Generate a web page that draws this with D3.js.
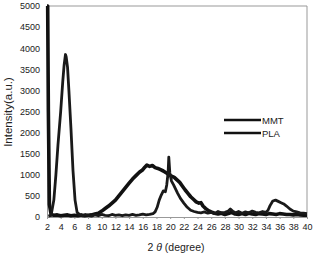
<!DOCTYPE html>
<html>
<head>
<meta charset="utf-8">
<script src="https://cdn.jsdelivr.net/npm/d3@7"></script>
<style>
  body { margin: 0; background: #fff; }
  text { font-family: "Liberation Sans", Arial, sans-serif; fill: #222; }
</style>
</head>
<body>
<div id="chart"></div>
<script>
// X-ray diffraction patterns
const mmtAngle = [2.2, 2.6, 3.0, 3.3, 3.6, 4.0, 4.3, 4.5, 4.7, 4.8, 5.0, 5.2, 5.5, 5.8, 6.1, 6.4, 6.8, 7.2, 7.6, 8.0, 8.5, 9.0, 9.5, 10, 10.5, 11, 11.5, 12, 12.5, 13, 13.5, 14, 14.5, 15, 15.5, 16, 16.5, 17, 17.5, 17.8, 18.1, 18.4, 18.7, 19.0, 19.3, 19.5, 19.7, 19.8, 19.95, 20.2, 20.5, 20.8, 21.1, 21.5, 22.0, 22.5, 23.0, 23.5, 24, 24.5, 25, 25.5, 26, 26.5, 27, 27.5, 28, 28.5, 28.8, 29.2, 29.6, 30, 30.5, 31, 31.5, 32, 32.5, 33, 33.5, 34, 34.3, 34.6, 35, 35.4, 35.8, 36.2, 36.6, 37, 37.5, 38, 38.5, 39, 39.5, 40];
const mmtIntensity = [20, 40, 400, 1000, 1700, 2500, 3200, 3600, 3850, 3800, 3550, 3000, 2100, 1100, 400, 110, 50, 30, 60, 40, 20, 50, 30, 60, 40, 30, 60, 40, 50, 30, 50, 40, 60, 40, 50, 70, 50, 60, 80, 120, 230, 400, 520, 620, 600, 760, 1050, 1420, 1050, 850, 760, 660, 560, 440, 330, 230, 160, 130, 110, 100, 120, 90, 110, 80, 130, 100, 110, 140, 190, 130, 100, 130, 90, 120, 100, 140, 110, 100, 130, 110, 160, 270, 380, 400, 370, 340, 310, 260, 190, 140, 120, 100, 90, 80];

const plaAngle = [2.0, 2.1, 2.2, 2.35, 2.6, 3, 3.5, 4, 4.5, 5, 5.5, 6, 6.5, 7, 7.5, 8, 8.5, 9, 9.5, 10, 10.5, 11, 11.5, 12, 12.5, 13, 13.5, 14, 14.5, 15, 15.5, 16, 16.3, 16.6, 17, 17.4, 17.8, 18.2, 18.6, 19, 19.4, 19.8, 20.2, 20.6, 21, 21.4, 21.8, 22.2, 22.6, 23, 23.4, 23.8, 24.2, 24.5, 24.8, 25.2, 25.6, 26, 26.5, 27, 27.5, 28, 28.5, 29, 29.5, 30, 30.5, 31, 31.5, 32, 32.5, 33, 33.5, 34, 34.5, 35, 35.5, 36, 36.5, 37, 37.5, 38, 38.5, 39, 39.5, 40];
const plaIntensity = [5000, 5000, 2500, 300, 60, 40, 50, 30, 40, 50, 30, 40, 30, 50, 30, 40, 50, 70, 90, 140, 200, 260, 330, 400, 500, 600, 700, 800, 900, 980, 1060, 1120, 1180, 1230, 1200, 1220, 1170, 1150, 1120, 1090, 1050, 1000, 970, 940, 880, 820, 730, 640, 560, 480, 420, 360, 330, 340, 260, 200, 150, 120, 90, 70, 90, 60, 80, 110, 70, 60, 80, 60, 90, 70, 60, 80, 70, 60, 80, 70, 60, 80, 70, 60, 60, 50, 60, 50, 40, 40];

const yTicks = d3.range(0, 5001, 500);
const xTicks = d3.range(2, 41, 2);
const seriesNames = ["MMT", "PLA"];

const width = 313, height = 257;
const margin = { top: 6, right: 6, bottom: 40, left: 46 };

const svg = d3.select("#chart").append("svg")
    .attr("width", width)
    .attr("height", height);

const x = d3.scaleLinear().domain([2, 40]).range([margin.left + 1, width - margin.right]);
const y = d3.scaleLinear().domain([0, 5000]).range([height - margin.bottom, margin.top]);

// frame: thin grey top and right border
svg.append("path")
    .attr("d", `M${x(2)},${y(5000)}H${x(40)}V${y(0)}`)
    .attr("fill", "none")
    .attr("stroke", "#999")
    .attr("stroke-width", 1);

// x axis
const xAxis = svg.append("g")
    .attr("transform", `translate(0,${y(0)})`)
    .call(d3.axisBottom(x).tickValues(xTicks).tickSize(2).tickSizeOuter(0).tickPadding(5));
xAxis.select(".domain").attr("stroke", "#999");
xAxis.selectAll(".tick line").attr("stroke", "#999");
xAxis.selectAll("text").style("font-size", "9px").attr("fill", "#222")
    .style("font-family", "'Liberation Sans', Arial, sans-serif");

// y axis
const yAxis = svg.append("g")
    .attr("transform", `translate(${x(2)},0)`)
    .call(d3.axisLeft(y).tickValues(yTicks).tickFormat(d3.format("d")).tickSize(0).tickPadding(7));
yAxis.select(".domain").attr("stroke", "#999");
yAxis.selectAll("text").style("font-size", "9px").attr("fill", "#222")
    .style("font-family", "'Liberation Sans', Arial, sans-serif");

// data lines
const line = d3.line().x(d => x(d[0])).y(d => y(d[1]));
const pla = plaAngle.map((a, i) => [a, plaIntensity[i]]);
const mmt = mmtAngle.map((a, i) => [a, mmtIntensity[i]]);

svg.append("path").datum(pla)
    .attr("d", line)
    .attr("fill", "none")
    .attr("stroke", "#111")
    .attr("stroke-width", 3.6)
    .attr("stroke-linejoin", "round");

svg.append("path").datum(mmt)
    .attr("d", line)
    .attr("fill", "none")
    .attr("stroke", "#1a1a1a")
    .attr("stroke-width", 2.8)
    .attr("stroke-linejoin", "round");

// legend
const legend = svg.append("g").attr("transform", "translate(224,120)");
seriesNames.forEach((name, i) => {
    legend.append("line")
        .attr("x1", 0).attr("x2", 37)
        .attr("y1", i * 13).attr("y2", i * 13)
        .attr("stroke", "#111")
        .attr("stroke-width", 2.5);
    legend.append("text")
        .attr("x", 38)
        .attr("y", i * 13 + 3.5)
        .style("font-size", "9.5px")
        .text(name);
});

// axis titles
const xTitle = svg.append("text")
    .attr("x", 176)
    .attr("y", 251)
    .attr("text-anchor", "middle")
    .style("font-size", "10.5px");
xTitle.append("tspan").text("2 ");
xTitle.append("tspan").style("font-style", "italic").text("θ");
xTitle.append("tspan").text(" (degree)");

svg.append("text")
    .attr("transform", "translate(12,112) rotate(-90)")
    .attr("text-anchor", "middle")
    .style("font-size", "11.5px")
    .text("Intensity(a.u.)");
</script>
</body>
</html>
